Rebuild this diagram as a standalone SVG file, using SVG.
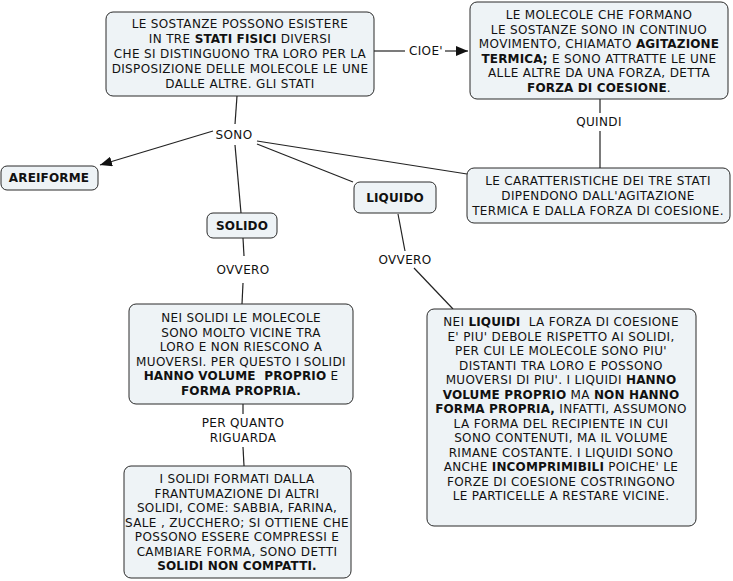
<svg xmlns="http://www.w3.org/2000/svg" width="733" height="581" viewBox="0 0 733 581">
<defs>
<style>
.node{fill:#eef3f6;stroke:#2a2a2a;stroke-width:1}
text{font-family:"DejaVu Sans","Verdana",sans-serif;font-size:12px;fill:#111;text-anchor:middle;letter-spacing:0.35px}
.b{font-weight:bold;letter-spacing:0.15px}
.c{stroke:#222;stroke-width:1.2;fill:none}
</style>
<marker id="ah" viewBox="0 0 12 10" refX="12" refY="5" markerWidth="12" markerHeight="10" markerUnits="userSpaceOnUse" orient="auto">
<path d="M0,0 L12,5 L0,10 Z" fill="#111"/>
</marker>
</defs>
<rect width="733" height="581" fill="#fff"/>
<g id="connectors">
<line class="c" x1="374" y1="51" x2="405" y2="51"/>
<line class="c" x1="445" y1="51" x2="468" y2="51" marker-end="url(#ah)"/>
<line class="c" x1="237" y1="96" x2="235" y2="124"/>
<line class="c" x1="213" y1="131" x2="100" y2="165" marker-end="url(#ah)"/>
<line class="c" x1="235" y1="145" x2="241" y2="213"/>
<line class="c" x1="257" y1="144" x2="353" y2="182"/>
<line class="c" x1="257" y1="141" x2="467" y2="174"/>
<line class="c" x1="600" y1="99" x2="600" y2="113"/>
<line class="c" x1="600" y1="131" x2="600" y2="168"/>
<line class="c" x1="243" y1="238" x2="244" y2="256"/>
<line class="c" x1="243" y1="283" x2="242" y2="304"/>
<line class="c" x1="398" y1="214" x2="405" y2="251"/>
<line class="c" x1="414" y1="268" x2="453" y2="309"/>
<line class="c" x1="243" y1="404" x2="243" y2="414"/>
<line class="c" x1="243" y1="447" x2="244" y2="466"/>
<text x="426" y="55">CIOE'</text>
<text x="234" y="139">SONO</text>
<text x="599" y="126">QUINDI</text>
<text x="243" y="274">OVVERO</text>
<text x="405" y="264">OVVERO</text>
<text x="243" y="427">PER QUANTO</text>
<text x="243" y="442">RIGUARDA</text>
</g>
<g id="n1">
<rect class="node" x="106" y="12" width="268" height="84" rx="7"/>
<text x="240" y="28">LE SOSTANZE POSSONO ESISTERE</text>
<text x="240" y="43">IN TRE <tspan class="b">STATI FISICI</tspan> DIVERSI</text>
<text x="240" y="58">CHE SI DISTINGUONO TRA LORO PER LA</text>
<text x="240" y="73">DISPOSIZIONE DELLE MOLECOLE LE UNE</text>
<text x="240" y="88">DALLE ALTRE. GLI STATI</text>
</g>
<g id="n2">
<rect class="node" x="470" y="2" width="258" height="97" rx="7"/>
<text x="599" y="19">LE MOLECOLE CHE FORMANO</text>
<text x="599" y="34">LE SOSTANZE SONO IN CONTINUO</text>
<text x="599" y="48">MOVIMENTO, CHIAMATO <tspan class="b">AGITAZIONE</tspan></text>
<text x="599" y="63"><tspan class="b">TERMICA;</tspan> E SONO ATTRATTE LE UNE</text>
<text x="599" y="77">ALLE ALTRE DA UNA FORZA, DETTA</text>
<text x="599" y="92"><tspan class="b">FORZA DI COESIONE</tspan>.</text>
</g>
<g id="n3">
<rect class="node" x="467" y="168" width="263" height="55" rx="7"/>
<text x="598" y="185">LE CARATTERISTICHE DEI TRE STATI</text>
<text x="598" y="200">DIPENDONO DALL'AGITAZIONE</text>
<text x="598" y="215">TERMICA E DALLA FORZA DI COESIONE.</text>
</g>
<g id="n4">
<rect class="node" x="1" y="166" width="97" height="24" rx="6"/>
<text class="b" x="49" y="182">AREIFORME</text>
</g>
<g id="n5">
<rect class="node" x="207" y="213" width="70" height="25" rx="6"/>
<text class="b" x="242" y="230">SOLIDO</text>
</g>
<g id="n6">
<rect class="node" x="354" y="182" width="82" height="31" rx="6"/>
<text class="b" x="395" y="202">LIQUIDO</text>
</g>
<g id="n7">
<rect class="node" x="129" y="304" width="224" height="100" rx="7"/>
<text x="241" y="322">NEI SOLIDI LE MOLECOLE</text>
<text x="241" y="337">SONO MOLTO VICINE TRA</text>
<text x="241" y="351">LORO E NON RIESCONO A</text>
<text x="241" y="366">MUOVERSI. PER QUESTO I SOLIDI</text>
<text x="241" y="380" xml:space="preserve"><tspan class="b">HANNO VOLUME  PROPRIO</tspan> E</text>
<text x="241" y="395"><tspan class="b">FORMA PROPRIA.</tspan></text>
</g>
<g id="n8">
<rect class="node" x="427" y="309" width="269" height="217" rx="7"/>
<text x="561" y="326" xml:space="preserve">NEI <tspan class="b">LIQUIDI</tspan>  LA FORZA DI COESIONE</text>
<text x="561" y="341">E' PIU' DEBOLE RISPETTO AI SOLIDI,</text>
<text x="561" y="355">PER CUI LE MOLECOLE SONO PIU'</text>
<text x="561" y="370">DISTANTI TRA LORO E POSSONO</text>
<text x="561" y="384">MUOVERSI DI PIU'. I LIQUIDI <tspan class="b">HANNO</tspan></text>
<text x="561" y="399"><tspan class="b">VOLUME PROPRIO</tspan> MA <tspan class="b">NON HANNO</tspan></text>
<text x="561" y="413"><tspan class="b">FORMA PROPRIA,</tspan> INFATTI, ASSUMONO</text>
<text x="561" y="428">LA FORMA DEL RECIPIENTE IN CUI</text>
<text x="561" y="442">SONO CONTENUTI, MA IL VOLUME</text>
<text x="561" y="457">RIMANE COSTANTE. I LIQUIDI SONO</text>
<text x="561" y="471">ANCHE <tspan class="b">INCOMPRIMIBILI</tspan> POICHE' LE</text>
<text x="561" y="486">FORZE DI COESIONE COSTRINGONO</text>
<text x="561" y="500">LE PARTICELLE A RESTARE VICINE.</text>
</g>
<g id="n9">
<rect class="node" x="124" y="466" width="227" height="112" rx="7"/>
<text x="237" y="483">I SOLIDI FORMATI DALLA</text>
<text x="237" y="498">FRANTUMAZIONE DI ALTRI</text>
<text x="237" y="512">SOLIDI, COME: SABBIA, FARINA,</text>
<text x="237" y="527">SALE , ZUCCHERO; SI OTTIENE CHE</text>
<text x="237" y="541">POSSONO ESSERE COMPRESSI E</text>
<text x="237" y="556">CAMBIARE FORMA, SONO DETTI</text>
<text x="237" y="570"><tspan class="b">SOLIDI NON COMPATTI.</tspan></text>
</g>
</svg>
